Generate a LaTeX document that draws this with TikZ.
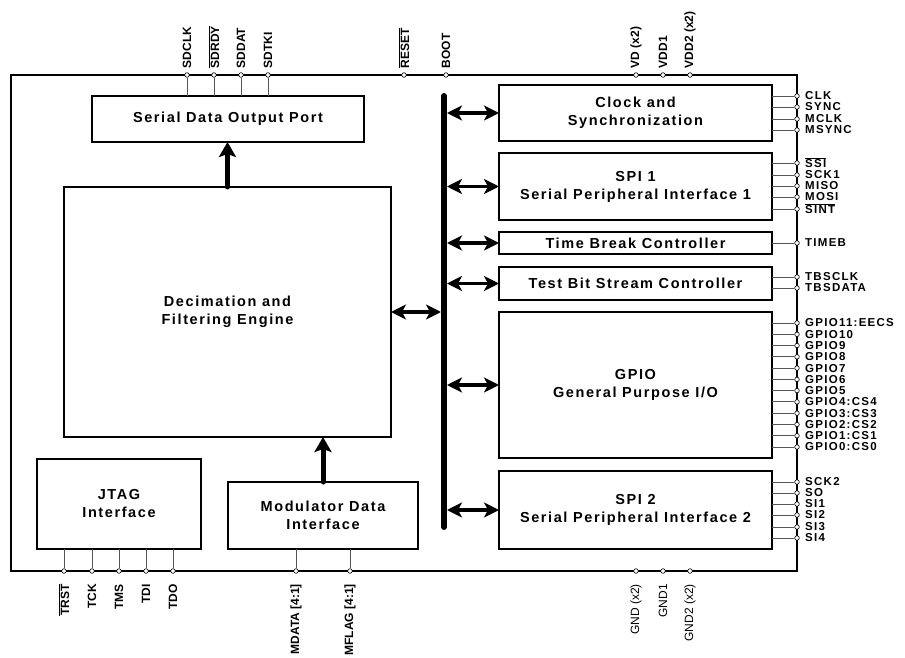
\documentclass[tikz,border=0pt]{standalone}
\usepackage{fontspec}
\setmainfont{Liberation Sans}
\newfontfamily\blkfont{Liberation Sans}[LetterSpace=11]
\newfontfamily\pinfont{Liberation Sans}[LetterSpace=11]
\usetikzlibrary{positioning,arrows.meta}
\definecolor{linegray}{HTML}{555555}
\newcommand\ovl[1]{$\overline{\mbox{#1}}$}
\tikzset{
  % --- chip outline and functional blocks ---
  frame/.style={draw=black, line width=2pt},
  blk/.style={draw=black, line width=1.3pt, fill=white, align=center,
              inner sep=2pt, outer sep=0pt,
              font={\blkfont\bfseries\fontsize{14.5}{18}\selectfont}},
  % --- internal bus and data paths ---
  bus/.style={line width=6pt, line cap=round},
  busarrow/.style={line width=3.5pt,
                   {Stealth[length=15pt,width=15pt,inset=4pt]}-{Stealth[length=15pt,width=15pt,inset=4pt]}},
  flowup/.style={line width=5pt, line cap=round,
                 -{Stealth[length=15pt,width=17pt,inset=3pt]}},
  % --- package pins ---
  pinpad/.style={circle, draw=black, line width=0.6pt, fill=white,
                 minimum size=4.6pt, inner sep=0pt},
  pinline/.style={draw=linegray, line width=0.9pt},
  rlabel/.style={anchor=west, inner sep=0pt, xshift=8pt,
                 font={\pinfont\bfseries\fontsize{11.5}{12}\selectfont}},
  tlabel/.style={rotate=90, anchor=west, inner sep=0pt,
                 font={\bfseries\fontsize{12}{13}\selectfont}},
  blabel/.style={rotate=90, anchor=east, inner sep=0pt,
                 font={\bfseries\fontsize{12}{13}\selectfont}},
  glabel/.style={blabel, font={\fontsize{12}{13}\selectfont}},
}
\begin{document}
\begin{tikzpicture}[x=1pt, y=-1pt]
  \useasboundingbox (0,0) rectangle (905,658);
  \draw[frame] (11,75) rectangle (797,571);

  % blocks, placed at pixel centres of the reference
  \node[blk, minimum width=272, minimum height=46]  (sdop)   at (228,119)   {Serial Data Output Port};
  \node[blk, minimum width=327, minimum height=250] (dfe)    at (227.5,312) {Decimation and\\Filtering Engine};
  \node[blk, minimum width=164, minimum height=90]  (jtag)   at (119,504)   {JTAG\\Interface};
  \node[blk, minimum width=190, minimum height=67]  (mdi)    at (323,515.5) {Modulator Data\\Interface};
  \node[blk, minimum width=273, minimum height=56]  (clk)    at (635.5,113) {Clock and\\Synchronization};
  \node[blk, minimum width=273, minimum height=67]  (spione) at (635.5,186.5) {SPI 1\\Serial Peripheral Interface 1};
  \node[blk, minimum width=273, minimum height=22]  (tbc)    at (635.5,243) {Time Break Controller};
  \node[blk, minimum width=273, minimum height=33]  (tbsc)   at (635.5,283.5) {Test Bit Stream Controller};
  \node[blk, minimum width=273, minimum height=146] (gpio)   at (635.5,385) {GPIO\\General Purpose I/O};
  \node[blk, minimum width=273, minimum height=78]  (spitwo) at (635.5,510) {SPI 2\\Serial Peripheral Interface 2};

  % internal bus
  \coordinate (bustop) at (444,96);
  \coordinate (busbot) at (444,527);
  \draw[bus] (bustop) -- (busbot);
  \foreach \b in {clk,spione,tbc,tbsc,gpio,spitwo}
    \draw[busarrow, shorten <=3pt] (\b.west -| bustop) -- (\b.west);
  \draw[busarrow, shorten >=3pt] (dfe.east) -- (dfe.east -| bustop);
  \draw[flowup] (dfe.north) -- (dfe.north |- sdop.south);
  \draw[flowup] (mdi.north) -- (mdi.north |- dfe.south);

  % top pins
  \foreach \x/\txt [count=\i] in {187/SDCLK,214/\ovl{SDRDY},241/SDDAT,268/SDTKI}{
    \node[pinpad] (sd-\i) at (\x,75) {};
    \draw[pinline] (sd-\i.south) -- (sd-\i |- sdop.north);
    \node[tlabel] (sdl-\i) at ([yshift=4pt]sd-\i.north) {\txt};
  }
  \foreach \x/\txt [count=\i] in {404/\ovl{RESET},446/BOOT,636/VD (x2),663/VDD1,690/VDD2 (x2)}{
    \node[pinpad] (tp-\i) at (\x,75) {};
    \node[tlabel] (tpl-\i) at ([yshift=4pt]tp-\i.north) {\txt};
  }

  % bottom pins
  \foreach \x/\txt [count=\i] in {64/\ovl{TRST},92/TCK,119/TMS,146/TDI,173/TDO}{
    \node[pinpad] (jt-\i) at (\x,571) {};
    \draw[pinline] (jt-\i.north) -- (jt-\i |- jtag.south);
    \node[blabel] (jtl-\i) at (\x,584) {\txt};
  }
  \foreach \x/\txt [count=\i] in {296/MDATA [4:1],350/MFLAG [4:1]}{
    \node[pinpad] (md-\i) at (\x,571) {};
    \draw[pinline] (md-\i.north) -- (md-\i |- mdi.south);
    \node[blabel] (mdl-\i) at (\x,584) {\txt};
  }
  \foreach \x/\txt [count=\i] in {636/GND (x2),663/GND1,690/GND2 (x2)}{
    \node[pinpad] (gd-\i) at (\x,571) {};
    \node[glabel] (gdl-\i) at (\x,584) {\txt};
  }

  % right-hand pins, one group per block
  \foreach \b/\list in {clk/{96/CLK,107/SYNC,119/MCLK,130/MSYNC},
      spione/{163/\ovl{SSI},175/SCK1,186/MISO,197/MOSI,209/\ovl{SINT}},
      tbc/{243/TIMEB},
      tbsc/{277/TBSCLK,288/TBSDATA},
      gpio/{323/GPIO11:EECS,334.3/GPIO10,345.5/GPIO9,356.8/GPIO8,368.1/GPIO7,379.4/GPIO6,390.6/GPIO5,401.9/GPIO4:CS4,413.2/GPIO3:CS3,424.5/GPIO2:CS2,435.7/GPIO1:CS1,447/GPIO0:CS0},
      spitwo/{482/SCK2,493/SO,504/SI1,515/SI2,527/SI3,538/SI4}}{
    \foreach \y/\txt [count=\i] in \list {
      \node[pinpad] (\b-p\i) at (797,\y) {};
      \draw[pinline] (\b-p\i.west) -- (\b-p\i -| \b.east);
      \node[rlabel] (\b-l\i) at (\b-p\i.center) {\txt};
    }
  }
\end{tikzpicture}
\end{document}
